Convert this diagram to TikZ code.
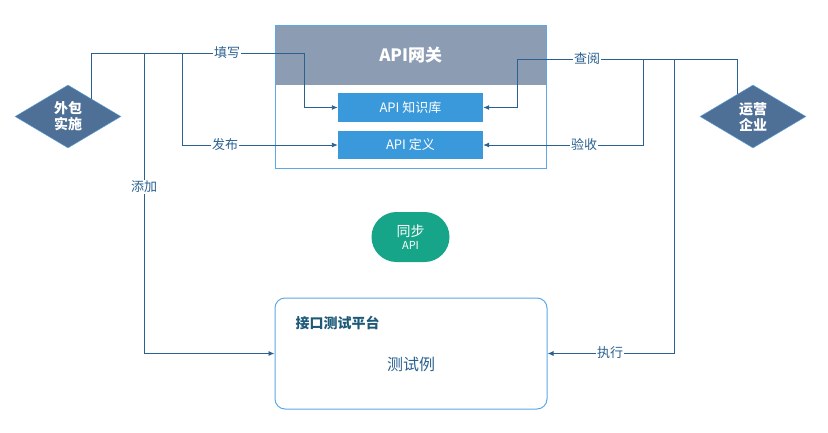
\documentclass[tikz,border=0pt]{standalone}
\usepackage{fontspec}
\setmainfont{Noto Sans CJK SC}
\usepackage{xcolor}
\usetikzlibrary{calc,shapes.geometric,shapes.misc,arrows.meta}

\definecolor{linec}{HTML}{2A6190}
\definecolor{framec}{HTML}{5DA8E6}
\definecolor{rolec}{HTML}{4F7096}
\definecolor{headc}{HTML}{8C9CB3}
\definecolor{apic}{HTML}{3A99DB}
\definecolor{syncc}{HTML}{17A589}
\definecolor{titlec}{HTML}{1E5A78}

\begin{document}
\begin{tikzpicture}[x=1pt,y=-1pt,
  wire/.style={draw=linec,line width=0.9pt},
  conn/.style={wire,-{Latex[length=6pt,width=5pt]}},
  lbl/.style={fill=white,inner sep=1pt,text=linec,font=\fontsize{13}{13}\selectfont},
  role/.style={diamond,aspect=1.7,draw=framec,fill=rolec,text=white,inner sep=0pt,
    minimum width=106pt,minimum height=63pt,align=center,font=\bfseries\fontsize{14}{16}\selectfont},
  apibox/.style={fill=apic,text=white,minimum width=145pt,minimum height=28.5pt,
    font=\fontsize{13}{13}\selectfont}]
  \useasboundingbox (0,0) rectangle (828,432);

  % roles on both sides
  \node[role] (wb) at (68,116.5) {外包\\实施};
  \node[role] (ob) at (753,116.5) {运营\\企业};

  % API gateway
  \node[fill=headc,text=white,anchor=north west,minimum width=271pt,minimum height=60pt,
    font=\bfseries\fontsize{17}{17}\selectfont] (gwhead) at (275,25) {API网关};
  \node[draw=framec,line width=1pt,anchor=north west,minimum width=271pt,minimum height=143pt] (gw) at (275,25) {};
  \node[apibox] (kb) at (410.5,107.5) {API 知识库};
  \node[apibox] (def) at (410.5,145) {API 定义};

  % sync
  \node[rounded rectangle,fill=syncc,text=white,minimum width=78pt,minimum height=50pt,
    inner sep=0pt,align=center,font=\fontsize{14}{14}\selectfont] (sync) at (410.5,237)
    {同步\\[-1pt]{\fontsize{11}{11}\selectfont API}};

  % test platform
  \node[draw=framec,line width=1pt,rounded corners=10pt,minimum width=272pt,minimum height=111pt] (tp) at (411,353.5) {};
  \node[anchor=west,text=titlec,font=\bfseries\fontsize{14}{14}\selectfont] (tptitle) at (292,323) {接口测试平台};
  \node[text=linec,font=\fontsize{16}{16}\selectfont] (tpcase) at (411,364) {测试例};

  % left side wiring
  \coordinate (wbedge) at ($(wb.north)!0.45!(wb.east)$);
  \coordinate (wfill) at (304,53);
  \coordinate (wadd) at (144,53);
  \coordinate (wpub) at (182,53);
  \draw[conn] (wbedge) |- (wfill) |- (kb.west);
  \draw[conn] (wpub) |- (def.west);
  \draw[conn] (wadd) |- (tp.west);

  % right side wiring
  \coordinate (obedge) at ($(ob.north)!0.3!(ob.west)$);
  \coordinate (oread) at (517,59);
  \coordinate (ochk) at (643,59);
  \coordinate (orun) at (674,59);
  \draw[conn] (obedge) |- (oread) |- (kb.east);
  \draw[conn] (ochk) |- (def.east);
  \draw[conn] (orun) |- (tp.east);

  % labels
  \node[lbl] (lfill) at (227,53) {填写};
  \node[lbl] (lpub) at (225,145) {发布};
  \node[lbl] (ladd) at (144,187) {添加};
  \node[lbl] (lread) at (587,59) {查阅};
  \node[lbl] (lchk) at (584,145) {验收};
  \node[lbl] (lrun) at (610,353) {执行};
\end{tikzpicture}
\end{document}
